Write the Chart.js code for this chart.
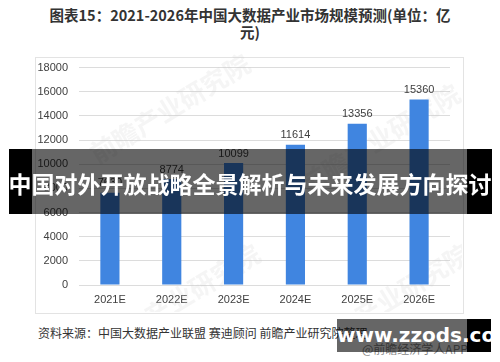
<!DOCTYPE html>
<html><head><meta charset="utf-8">
<script src="https://cdn.jsdelivr.net/npm/chart.js@4/dist/chart.umd.min.js"></script>
<style>
html,body{margin:0;padding:0;background:#fff;width:500px;height:362px;overflow:hidden;font-family:"Noto Sans CJK SC","Noto Sans",sans-serif;}
#title{position:absolute;left:40px;width:420px;top:6px;text-align:center;font-size:14.5px;font-weight:bold;color:#333;line-height:17px;}
#box{position:absolute;left:35px;top:57px;width:427px;height:255px;border:1px solid #e3e3e3;}
#c{position:absolute;left:35px;top:50px;}
#src{position:absolute;left:38px;top:324px;font-size:12px;color:#333;white-space:nowrap;}
#app{position:absolute;left:362px;top:340px;font-size:12px;color:#888;white-space:nowrap;}
.blk{position:absolute;background:#000;}
.ovl{position:absolute;background:rgba(0,0,0,0.6);}
#bannerText{position:absolute;left:0;width:500px;top:168px;text-align:center;color:#fff;font-weight:bold;font-size:23px;line-height:30px;white-space:nowrap;}
#wm{position:absolute;left:337px;width:154px;top:323px;text-align:center;color:#fff;font-weight:bold;font-size:20px;line-height:24px;font-family:"DejaVu Sans",sans-serif;white-space:nowrap;}
</style></head>
<body>
<div id="title">图表15：2021-2026年中国大数据产业市场规模预测(单位：亿<br>元)</div>
<div id="box"></div>
<canvas id="c" width="427" height="262"></canvas>
<div id="src">资料来源：中国大数据产业联盟 赛迪顾问 前瞻产业研究院整理</div>
<div id="app">@前瞻经济学人APP</div>
<div class="blk" style="left:9px;top:149px;width:23px;height:65px"></div>
<div class="ovl" style="left:32px;top:149px;width:435px;height:65px"></div>
<div class="blk" style="left:467px;top:149px;width:25px;height:65px"></div>
<div id="bannerText">中国对外开放战略全景解析与未来发展方向探讨</div>
<div class="ovl" style="left:337px;top:319px;width:130px;height:33px"></div>
<div class="blk" style="left:467px;top:319px;width:24px;height:33px"></div>
<div id="wm">www.zzods.com</div>
<script>
const categories = ["2021E","2022E","2023E","2024E","2025E","2026E"];
const marketSize = [7630, 8774, 10099, 11614, 13356, 15360];
const yTicks = [0,2000,4000,6000,8000,10000,12000,14000,16000,18000];

const labelPlugin = {
  id:'vals',
  afterDatasetsDraw(chart){
    const ctx = chart.ctx;
    const meta = chart.getDatasetMeta(0);
    ctx.save();
    ctx.font = '11px "Liberation Sans", sans-serif';
    ctx.fillStyle = '#404040';
    ctx.textAlign = 'center';
    ctx.textBaseline = 'bottom';
    meta.data.forEach((el,i)=>{
      ctx.fillText(String(marketSize[i]), el.x, el.y - 4);
    });
    ctx.restore();
  }
};
const wmPlugin = {
  id:'wmk',
  beforeDatasetsDraw(chart){
    const ctx = chart.ctx;
    ctx.save();
    ctx.fillStyle = 'rgba(200,200,200,0.18)';
    ctx.font = 'bold 26px "Noto Sans CJK SC", sans-serif';
    [[140,67],[350,97],[150,257],[360,257]].forEach(p=>{
      ctx.save(); ctx.translate(p[0],p[1]); ctx.rotate(-0.55);
      ctx.textAlign='center'; ctx.fillText('前瞻产业研究院',0,0); ctx.restore();
    });
    ctx.restore();
  }
};

new Chart(document.getElementById('c'), {
  type:'bar',
  data:{labels:categories, datasets:[{data:marketSize, backgroundColor:'#4085E0', barPercentage:0.31, categoryPercentage:1}]},
  options:{
    responsive:false, animation:false,
    layout:{padding:{left:0,right:12,top:4,bottom:0}},
    plugins:{legend:{display:false}, tooltip:{enabled:false}},
    scales:{
      x:{grid:{display:false,drawTicks:false}, border:{display:false},
         afterFit(s){s.height=27;},
         ticks:{color:'#404040', maxRotation:0, font:{size:11, family:'"Liberation Sans", sans-serif'}, padding:8}},
      y:{min:0,max:18000, afterBuildTicks(s){s.ticks=yTicks.map(v=>({value:v}));},
         afterFit(s){s.width=44;},
         grid:{color:'#dcdcdc', drawTicks:false}, border:{display:false},
         ticks:{color:'#404040', callback:(v)=>String(v), font:{size:11, family:'"Liberation Sans", sans-serif'}, padding:11}}
    }
  },
  plugins:[wmPlugin,labelPlugin]
});
</script>
</body></html>
